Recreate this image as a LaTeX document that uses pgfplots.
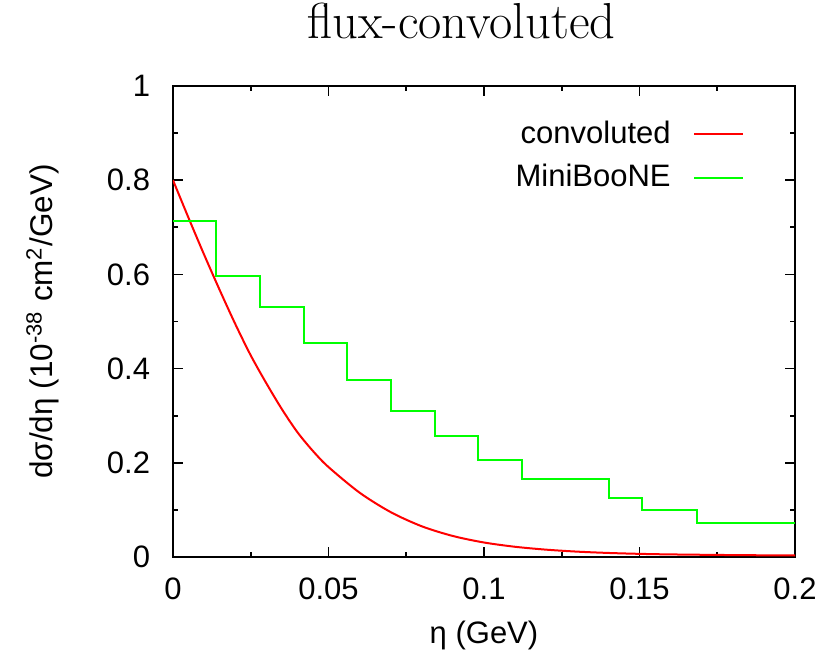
\documentclass[border=0pt]{standalone}
\usepackage{fontspec}
\usepackage{pgfplots}
\pgfplotsset{compat=1.18}
\newfontfamily\arial{Liberation Sans}
\begin{document}
\begin{tikzpicture}
\useasboundingbox (-60.55pt,-35.35pt) rectangle (230.3pt,194.95pt);
\begin{axis}[
  at={(0,0)}, anchor=south west,
  scale only axis,
  width=217.7pt, height=164.85pt,
  xmin=0, xmax=0.2, ymin=0, ymax=1,
  xtick={0,0.05,0.1,0.15,0.2},
  ytick={0,0.2,0.4,0.6,0.8,1},
  minor x tick num=1, minor y tick num=1,
  tick align=inside,
  major tick length=3.5pt, minor tick length=1.75pt,
  axis line style={line width=0.7pt},
  every tick/.style={black, line width=0.6pt},
  /pgf/number format/assume math mode=true,
  /pgf/number format/fixed,
  scaled ticks=false,
  ticklabel style={font=\arial\fontsize{10.85}{13}\selectfont},
  xticklabel style={yshift=-3.8pt},
  yticklabel style={xshift=-4.5pt},
  every axis title shift=0pt,
  title={flux-convoluted},
  title style={font=\fontsize{17.7}{21}\selectfont, at={(axis description cs:0.4638,1.0998)}, anchor=base, inner sep=0pt},
  xlabel={η (GeV)},
  xlabel style={font=\arial\fontsize{10.85}{13}\selectfont, at={(axis description cs:0.5,-0.1826)}, anchor=base, inner sep=0pt},
  ylabel={dσ/dη (10\textsuperscript{-38} cm\textsuperscript{2}/GeV)},
  ylabel style={font=\arial\fontsize{11}{13}\selectfont, at={(axis description cs:-0.193,0.5)}, anchor=base, inner sep=0pt},
  legend style={draw=none, fill=none, font=\arial\fontsize{10.85}{13}\selectfont,
    at={(axis description cs:0.919,0.94)}, anchor=north east,
    row sep=2pt, inner sep=0pt},
  legend cell align=right,
  legend plot pos=right,
  legend image code/.code={\path[draw=none,fill=none] (0cm,-0.1pt) rectangle (0.22cm,0.1pt); \draw[#1] (0.22cm,0cm) -- (0.82cm,0cm);},
]
\addplot[red, line width=0.7pt, smooth] coordinates {
(0,0.80) (0.005,0.720) (0.01,0.642) (0.015,0.567) (0.02,0.495) (0.025,0.428)
(0.03,0.369) (0.035,0.314) (0.04,0.265) (0.045,0.225) (0.05,0.191) (0.06,0.1366)
(0.07,0.0953) (0.08,0.0652) (0.09,0.0446) (0.1,0.0308) (0.11,0.0217) (0.12,0.0156)
(0.13,0.0114) (0.14,0.0086) (0.15,0.0067) (0.16,0.0055) (0.18,0.0041) (0.2,0.0032)
};
\addlegendentry{convoluted}
\addplot[color={rgb,255:red,0;green,255;blue,0}, line width=0.7pt, const plot mark left] coordinates {
(0,0.713) (0.01384,0.597) (0.02799,0.531) (0.04202,0.454) (0.05608,0.375)
(0.07014,0.309) (0.0842,0.257) (0.0981,0.205) (0.1123,0.166) (0.1403,0.126)
(0.1507,0.100) (0.1684,0.073) (0.2,0.073)
};
\addlegendentry{MiniBooNE}
\end{axis}
\end{tikzpicture}
\end{document}
